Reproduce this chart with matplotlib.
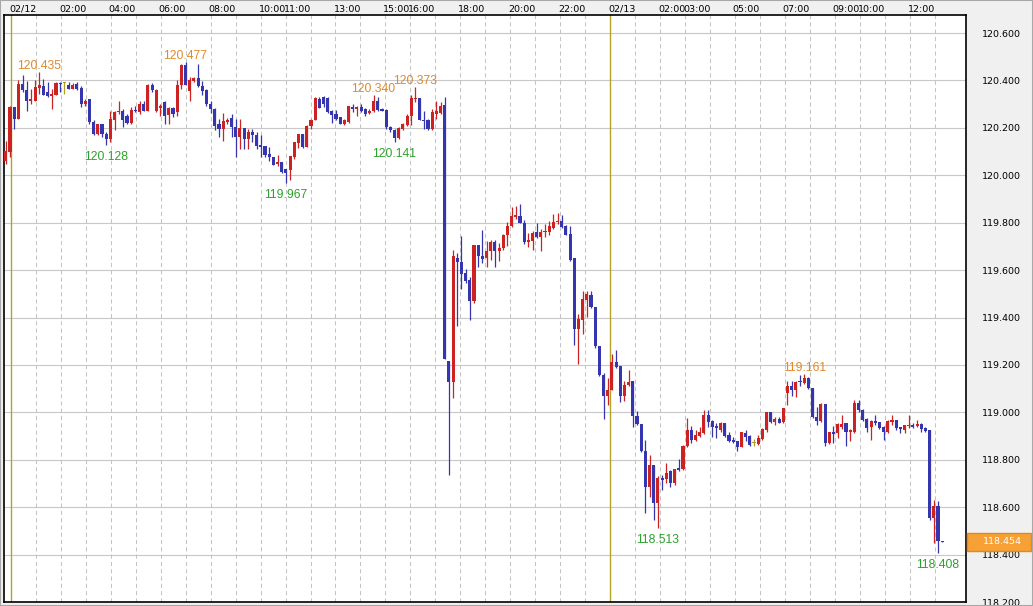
import numpy as np
import matplotlib
matplotlib.use('Agg')
from matplotlib import pyplot as plt
from matplotlib import font_manager, transforms
from matplotlib.patches import Rectangle

# 10分足 02/12 00:00 の1本前から (index -1)
first_bar = -1
opens = [
    120.062, 120.097, 120.287, 120.238, 120.386, 120.358, 120.315, 120.315, 120.368, 120.376,
    120.351, 120.334, 120.337, 120.389, 120.388, 120.382, 120.365, 120.386, 120.368, 120.301,
    120.323, 120.224, 120.175, 120.217, 120.175, 120.154, 120.235, 120.266, 120.273, 120.252,
    120.221, 120.277, 120.266, 120.301, 120.273, 120.382, 120.273, 120.283, 120.311, 120.255,
    120.283, 120.266, 120.382, 120.463, 120.354, 120.396, 120.410, 120.376, 120.358, 120.301,
    120.280, 120.217, 120.196, 120.224, 120.241, 120.203, 120.161, 120.199, 120.151, 120.182,
    120.168, 120.128, 120.125, 120.090, 120.076, 120.048, 120.055, 120.027, 120.024, 120.076,
    120.137, 120.175, 120.118, 120.207, 120.231, 120.323, 120.330, 120.325, 120.269, 120.259,
    120.245, 120.217, 120.224, 120.287, 120.280, 120.287, 120.280, 120.263, 120.269, 120.315,
    120.280, 120.277, 120.203, 120.193, 120.156, 120.196, 120.213, 120.252, 120.320, 120.325,
    120.235, 120.231, 120.196, 120.259, 120.263, 120.296, 119.216, 119.127, 119.653, 119.635,
    119.587, 119.559, 119.470, 119.706, 119.660, 119.649, 119.682, 119.720, 119.682, 119.692,
    119.748, 119.788, 119.824, 119.830, 119.799, 119.720, 119.724, 119.759, 119.738, 119.759,
    119.762, 119.776, 119.802, 119.809, 119.785, 119.752, 119.649, 119.350, 119.389, 119.474,
    119.497, 119.445, 119.279, 119.159, 119.068, 119.096, 119.211, 119.194, 119.070, 119.114,
    119.131, 118.986, 118.952, 118.839, 118.687, 118.779, 118.617, 118.723, 118.718, 118.751,
    118.701, 118.765, 118.761, 118.856, 118.927, 118.885, 118.901, 118.912, 118.989, 118.965,
    118.943, 118.926, 118.957, 118.905, 118.884, 118.877, 118.853, 118.912, 118.901, 118.870,
    118.867, 118.887, 118.926, 119.002, 118.961, 118.971, 118.961, 119.081, 119.112, 119.095,
    119.134, 119.123, 119.145, 119.104, 118.982, 118.965, 119.036, 118.870, 118.919, 118.912,
    118.940, 118.957, 118.915, 118.919, 119.038, 119.010, 118.971, 118.937, 118.965, 118.961,
    118.940, 118.915, 118.961, 118.968, 118.937, 118.926, 118.943, 118.947, 118.943, 118.951,
    118.933, 118.926, 118.553, 118.603, 118.458,
]
highs = [
    120.146, 120.294, 120.287, 120.400, 120.421, 120.396, 120.365, 120.400, 120.435, 120.407,
    120.393, 120.365, 120.393, 120.393, 120.392, 120.393, 120.390, 120.393, 120.376, 120.323,
    120.323, 120.231, 120.217, 120.217, 120.182, 120.273, 120.273, 120.315, 120.280, 120.259,
    120.287, 120.294, 120.315, 120.315, 120.386, 120.390, 120.365, 120.301, 120.315, 120.287,
    120.287, 120.400, 120.470, 120.477, 120.414, 120.414, 120.470, 120.396, 120.365, 120.315,
    120.283, 120.238, 120.263, 120.241, 120.259, 120.238, 120.238, 120.199, 120.196, 120.196,
    120.182, 120.170, 120.125, 120.118, 120.076, 120.086, 120.055, 120.027, 120.080, 120.142,
    120.175, 120.175, 120.210, 120.238, 120.330, 120.330, 120.334, 120.330, 120.277, 120.277,
    120.245, 120.238, 120.292, 120.301, 120.292, 120.301, 120.283, 120.280, 120.340, 120.330,
    120.283, 120.280, 120.207, 120.196, 120.203, 120.221, 120.259, 120.337, 120.373, 120.325,
    120.273, 120.238, 120.280, 120.315, 120.311, 120.331, 119.216, 119.686, 119.672, 119.745,
    119.604, 119.569, 119.706, 119.706, 119.771, 119.724, 119.728, 119.728, 119.714, 119.752,
    119.802, 119.865, 119.869, 119.879, 119.813, 119.756, 119.766, 119.799, 119.773, 119.795,
    119.809, 119.837, 119.841, 119.833, 119.790, 119.788, 119.653, 119.413, 119.512, 119.512,
    119.511, 119.445, 119.279, 119.166, 119.145, 119.244, 119.265, 119.194, 119.131, 119.177,
    119.131, 119.004, 118.952, 118.885, 118.821, 118.779, 118.730, 118.737, 118.786, 118.758,
    118.761, 118.803, 118.863, 118.976, 118.941, 118.927, 118.940, 119.008, 119.010, 118.968,
    118.957, 118.961, 118.957, 118.919, 118.895, 118.877, 118.919, 118.926, 118.905, 118.887,
    118.905, 118.933, 119.002, 119.002, 118.979, 118.979, 119.017, 119.134, 119.134, 119.134,
    119.158, 119.161, 119.150, 119.104, 119.022, 119.038, 119.036, 118.919, 118.943, 118.957,
    118.989, 118.957, 118.929, 119.050, 119.050, 119.013, 118.975, 118.968, 118.989, 118.961,
    118.943, 118.968, 118.989, 118.968, 118.940, 118.947, 118.989, 118.954, 118.968, 118.954,
    118.937, 118.926, 118.631, 118.624, 118.459,
]
lows = [
    120.048, 120.076, 120.196, 120.238, 120.351, 120.273, 120.301, 120.315, 120.344, 120.337,
    120.330, 120.280, 120.337, 120.351, 120.341, 120.362, 120.362, 120.358, 120.287, 120.294,
    120.217, 120.168, 120.168, 120.161, 120.128, 120.139, 120.189, 120.259, 120.203, 120.217,
    120.217, 120.266, 120.259, 120.273, 120.273, 120.351, 120.266, 120.252, 120.217, 120.217,
    120.245, 120.252, 120.365, 120.379, 120.315, 120.393, 120.372, 120.337, 120.294, 120.263,
    120.189, 120.161, 120.146, 120.217, 120.161, 120.076, 120.111, 120.111, 120.111, 120.139,
    120.111, 120.076, 120.076, 120.062, 120.045, 120.041, 120.010, 119.967, 119.982, 120.069,
    120.114, 120.114, 120.118, 120.196, 120.231, 120.283, 120.287, 120.263, 120.221, 120.235,
    120.217, 120.210, 120.221, 120.266, 120.252, 120.266, 120.252, 120.259, 120.266, 120.273,
    120.269, 120.196, 120.182, 120.141, 120.154, 120.189, 120.207, 120.210, 120.308, 120.231,
    120.196, 120.193, 120.193, 120.238, 120.259, 119.223, 118.735, 119.060, 119.364, 119.519,
    119.547, 119.389, 119.463, 119.611, 119.632, 119.611, 119.644, 119.615, 119.639, 119.686,
    119.700, 119.780, 119.816, 119.799, 119.710, 119.696, 119.686, 119.734, 119.682, 119.738,
    119.748, 119.773, 119.795, 119.776, 119.748, 119.639, 119.286, 119.206, 119.329, 119.403,
    119.441, 119.272, 119.155, 118.972, 119.032, 119.096, 119.187, 119.042, 119.046, 119.110,
    118.938, 118.948, 118.831, 118.577, 118.642, 118.544, 118.513, 118.673, 118.701, 118.687,
    118.694, 118.751, 118.758, 118.854, 118.870, 118.877, 118.895, 118.909, 118.940, 118.895,
    118.891, 118.919, 118.898, 118.873, 118.870, 118.835, 118.853, 118.877, 118.859, 118.856,
    118.863, 118.884, 118.915, 118.957, 118.947, 118.954, 118.957, 119.031, 119.067, 119.064,
    119.109, 119.120, 119.097, 118.975, 118.947, 118.961, 118.856, 118.867, 118.870, 118.891,
    118.929, 118.856, 118.877, 118.912, 119.003, 118.965, 118.919, 118.884, 118.947, 118.929,
    118.884, 118.912, 118.947, 118.926, 118.912, 118.912, 118.933, 118.933, 118.937, 118.919,
    118.919, 118.546, 118.447, 118.408, 118.453,
]
closes = [
    120.104, 120.287, 120.238, 120.386, 120.358, 120.315, 120.323, 120.372, 120.379, 120.339,
    120.334, 120.344, 120.389, 120.383, 120.388, 120.365, 120.382, 120.365, 120.301, 120.315,
    120.224, 120.175, 120.217, 120.175, 120.154, 120.238, 120.266, 120.273, 120.235, 120.221,
    120.277, 120.269, 120.301, 120.273, 120.382, 120.358, 120.358, 120.294, 120.252, 120.283,
    120.259, 120.382, 120.463, 120.379, 120.400, 120.410, 120.376, 120.354, 120.301, 120.280,
    120.207, 120.196, 120.227, 120.235, 120.203, 120.161, 120.199, 120.151, 120.182, 120.168,
    120.125, 120.121, 120.086, 120.076, 120.045, 120.055, 120.013, 120.010, 120.080, 120.139,
    120.175, 120.118, 120.207, 120.235, 120.325, 120.283, 120.301, 120.266, 120.255, 120.238,
    120.217, 120.231, 120.292, 120.280, 120.287, 120.273, 120.259, 120.273, 120.315, 120.277,
    120.273, 120.203, 120.189, 120.156, 120.199, 120.217, 120.252, 120.325, 120.325, 120.231,
    120.227, 120.196, 120.266, 120.269, 120.292, 119.223, 119.127, 119.658, 119.635, 119.583,
    119.555, 119.470, 119.706, 119.658, 119.646, 119.682, 119.720, 119.682, 119.694, 119.748,
    119.788, 119.827, 119.833, 119.799, 119.720, 119.728, 119.756, 119.738, 119.759, 119.766,
    119.785, 119.804, 119.809, 119.780, 119.748, 119.644, 119.350, 119.395, 119.477, 119.498,
    119.445, 119.279, 119.159, 119.068, 119.096, 119.211, 119.192, 119.070, 119.117, 119.127,
    118.983, 118.952, 118.835, 118.687, 118.779, 118.617, 118.723, 118.716, 118.746, 118.701,
    118.761, 118.755, 118.859, 118.927, 118.885, 118.904, 118.915, 118.989, 118.961, 118.937,
    118.933, 118.957, 118.901, 118.877, 118.873, 118.853, 118.915, 118.898, 118.863, 118.870,
    118.891, 118.929, 119.002, 118.961, 118.971, 118.957, 119.017, 119.112, 119.095, 119.130,
    119.127, 119.145, 119.102, 118.982, 118.965, 119.036, 118.870, 118.919, 118.908, 118.951,
    118.951, 118.919, 118.926, 119.038, 119.008, 118.968, 118.933, 118.965, 118.957, 118.933,
    118.919, 118.965, 118.968, 118.933, 118.929, 118.947, 118.947, 118.940, 118.951, 118.929,
    118.923, 118.553, 118.603, 118.458, 118.454,
]

# 高値・安値の表示をする足
high_marks = [7, 42, 87, 97, 190]
low_marks = [23, 66, 92, 155, 222]

price_ticks = [118.2, 118.4, 118.6, 118.8, 119.0, 119.2, 119.4, 119.6, 119.8, 120.0, 120.2, 120.4, 120.6]
hour_marks = [0, 2, 4, 6, 8, 10, 11, 13, 15, 16, 18, 20, 22, 24, 26, 27, 29, 31, 33, 34, 36]
hour_labels = ['02/12', '02:00', '04:00', '06:00', '08:00', '10:00', '11:00', '13:00', '15:00',
               '16:00', '18:00', '20:00', '22:00', '02/13', '02:00', '03:00', '05:00', '07:00',
               '09:00', '10:00', '12:00']

up_col = '#cc2222'
down_col = '#3535b0'
doji_col = '#b0a020'

names = {f.name for f in font_manager.fontManager.ttflist}
if 'Liberation Sans Narrow' in names:
    axis_font, axis_size = 'Liberation Sans Narrow', 8.6
else:
    axis_font, axis_size = 'DejaVu Sans', 6.8
mark_font = ['Liberation Sans', 'DejaVu Sans']

W, H = 1033, 606
fig = plt.figure(figsize=(W / 100, H / 100), dpi=100, facecolor='#f0f0f0')
ax = fig.add_axes([4 / W, 4 / H, 962 / W, 587 / H])
ax.set_facecolor('white')

step = 4.18  # 1本あたりのピクセル
ax.set_xlim((4 - 10) / step, (966 - 10) / step)
ax.set_ylim(118.2, 120.676)


def hour_x(h):
    # 時刻線は1時間 = 24.96px
    return (1 + 24.96 * h) / step


# 格子
for p in price_ticks:
    ax.axhline(p, color='#c8c8c8', lw=0.8, zorder=1)
for h in range(1, 38):
    if h % 24 == 0:
        continue
    ax.axvline(hour_x(h), color='#c4c4c4', lw=0.75, ls=(0, (4, 3)), zorder=1)
for h in (0, 24):
    ax.axvline(hour_x(h), color='#b0a428', lw=1.0, zorder=2)

# ローソク足
o = np.array(opens)
hi = np.array(highs)
lo = np.array(lows)
c = np.array(closes)
x = np.arange(first_bar, first_bar + len(o))
cols = np.where(c > o, up_col, np.where(c < o, down_col, doji_col))
ax.vlines(x, lo, hi, colors=cols, lw=0.9, zorder=3)
ax.bar(x, np.maximum(np.abs(c - o), 0.004), bottom=np.minimum(o, c), width=0.74,
       color=cols, linewidth=0, zorder=4)

# 高値安値ラベル
for i in high_marks:
    k = i - first_bar
    ax.annotate(f'{hi[k]:.3f}', (i, hi[k]), xytext=(0, 0), textcoords='offset pixels',
                ha='center', va='bottom', color='#e08a2c', fontsize=8.8, family=mark_font)
for i in low_marks:
    k = i - first_bar
    ax.annotate(f'{lo[k]:.3f}', (i, lo[k]), xytext=(0, -6), textcoords='offset pixels',
                ha='center', va='top', color='#2ea02e', fontsize=8.8, family=mark_font)

# 時刻ラベル
for h, lab in zip(hour_marks, hour_labels):
    ax.annotate(lab, xy=(hour_x(h), 1), xycoords=('data', 'axes fraction'), xytext=(-2, 3),
                textcoords='offset pixels', ha='left', va='baseline', fontsize=axis_size,
                family=axis_font, annotation_clip=False)

ax.set_xticks([])
ax.yaxis.tick_right()
ax.set_yticks(price_ticks)
ax.set_yticklabels([f'{p:.3f}' for p in price_ticks], family=axis_font, fontsize=axis_size)
ax.tick_params(axis='y', length=0, pad=11.5)
for s in ax.spines.values():
    s.set_color('black')
    s.set_linewidth(1.2)

# 現在値
last = c[-1]
trans = transforms.blended_transform_factory(fig.transFigure, ax.transData)
ax.add_patch(Rectangle((967 / W, last - 9 / 237), 64 / W, 18 / 237, transform=trans,
                       facecolor='#f7a035', edgecolor='#e08a1e', lw=1, clip_on=False, zorder=5))
ax.text(983 / W, last, f'{last:.3f}', transform=trans, ha='left', va='center', color='white',
        fontsize=axis_size, family=axis_font, clip_on=False, zorder=6)

fig.patches.append(Rectangle((0, 0), 1, 1, transform=fig.transFigure, fill=False,
                             edgecolor='#a8a8a8', lw=1.5))

fig.savefig('out.png', dpi=100, facecolor=fig.get_facecolor())
